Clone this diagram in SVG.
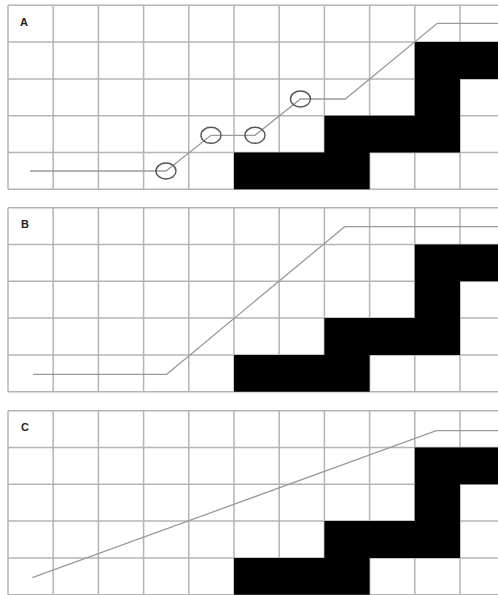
<svg xmlns="http://www.w3.org/2000/svg" xmlns:xlink="http://www.w3.org/1999/xlink" width="498" height="595" viewBox="0 0 498 595">
<style>
.grid line{stroke:#b4b4b4;stroke-width:1.5}
.blk{fill:#000}
.path{fill:none;stroke:#9a9a9a;stroke-width:1.3}
.ring{fill:none;stroke:#555;stroke-width:1.4}
.lbl{font-family:"Liberation Sans",Arial,sans-serif;font-weight:bold;font-size:11px;fill:#222}
</style>
<defs>
<g id="grid" class="grid">
<line x1="8" y1="0" x2="498" y2="0"/>
<line x1="8" y1="36.8" x2="498" y2="36.8"/>
<line x1="8" y1="73.6" x2="498" y2="73.6"/>
<line x1="8" y1="110.4" x2="498" y2="110.4"/>
<line x1="8" y1="147.2" x2="498" y2="147.2"/>
<line x1="8" y1="184" x2="498" y2="184"/>
<line x1="8" y1="0" x2="8" y2="184"/>
<line x1="53.2" y1="0" x2="53.2" y2="184"/>
<line x1="98.4" y1="0" x2="98.4" y2="184"/>
<line x1="143.6" y1="0" x2="143.6" y2="184"/>
<line x1="188.8" y1="0" x2="188.8" y2="184"/>
<line x1="234" y1="0" x2="234" y2="184"/>
<line x1="279.2" y1="0" x2="279.2" y2="184"/>
<line x1="324.4" y1="0" x2="324.4" y2="184"/>
<line x1="369.6" y1="0" x2="369.6" y2="184"/>
<line x1="414.8" y1="0" x2="414.8" y2="184"/>
<line x1="460" y1="0" x2="460" y2="184"/>
</g>
<polygon id="stair" class="blk" points="234,184 234,147.2 324.4,147.2 324.4,110.4 414.8,110.4 414.8,36.8 500,36.8 500,73.6 460,73.6 460,147.2 369.6,147.2 369.6,184"/>
</defs>
<rect width="498" height="595" fill="#fff"/>
<g id="panelA" transform="translate(0,5.3)">
<use xlink:href="#grid"/>
<use xlink:href="#stair"/>
<text class="lbl" x="20" y="20.7">A</text>
<g id="connectorsA">
<polyline class="path" points="30,165.7 166,165.7 211,130 255,130 300.5,93.7 345.3,93.7 437.3,18 498,18"/>
<ellipse class="ring" cx="166" cy="165.7" rx="10" ry="8"/>
<ellipse class="ring" cx="211" cy="130" rx="10" ry="8"/>
<ellipse class="ring" cx="255" cy="130" rx="10" ry="8"/>
<ellipse class="ring" cx="300.5" cy="93.7" rx="10" ry="8"/>
</g>
</g>
<g id="panelB" transform="translate(0,207.7)">
<use xlink:href="#grid"/>
<use xlink:href="#stair"/>
<text class="lbl" x="21" y="20.5">B</text>
<g id="connectorsB">
<polyline class="path" points="33.3,166.6 166.7,166.6 344.7,19 498,19"/>
</g>
</g>
<g id="panelC" transform="translate(0,410.7)">
<use xlink:href="#grid"/>
<use xlink:href="#stair"/>
<text class="lbl" x="21" y="20.5">C</text>
<g id="connectorsC">
<polyline class="path" points="32.3,167 436.3,20 498,20"/>
</g>
</g>
</svg>
